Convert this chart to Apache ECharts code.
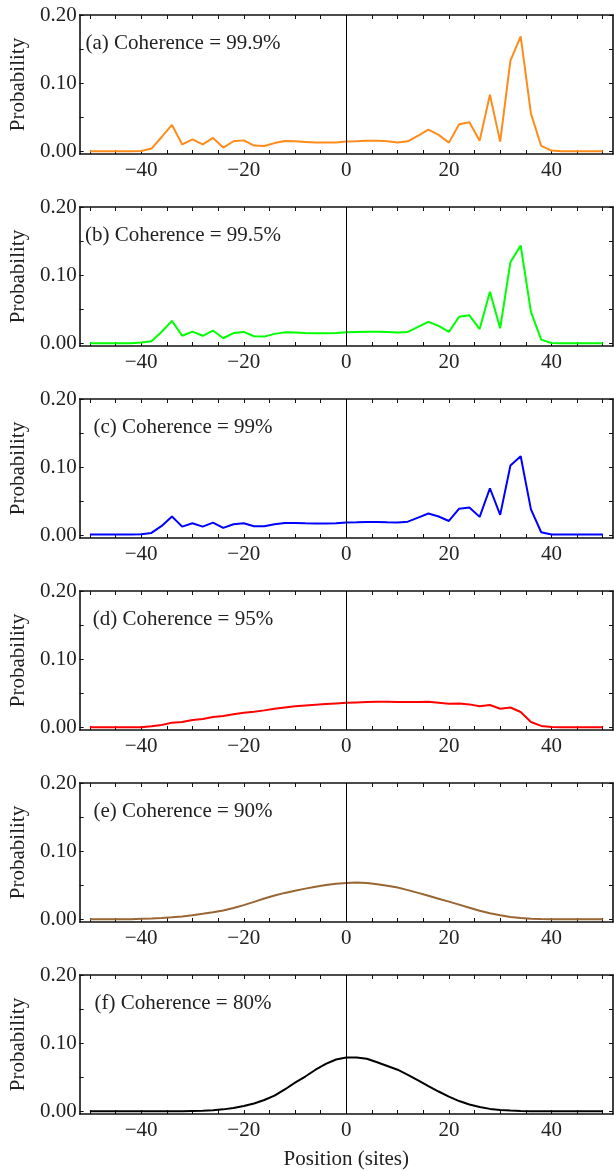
<!DOCTYPE html>
<html>
<head>
<meta charset="utf-8">
<script src="https://cdn.jsdelivr.net/npm/echarts@6/dist/echarts.min.js"></script>
<style>
html,body{margin:0;padding:0;background:#fff;}
#chart{width:614px;height:1171px;}
</style>
</head>
<body>
<div id="chart"></div>
<script>
// Positions (sites)
const positions = [-50,-48,-46,-44,-42,-40,-38,-36,-34,-32,-30,-28,-26,-24,-22,-20,-18,-16,-14,-12,-10,-8,-6,-4,-2,0,2,4,6,8,10,12,14,16,18,20,22,24,26,28,30,32,34,36,38,40,42,44,46,48,50];

// Probability per panel
const probA = [0,0,0,0,0,0.0005,0.004,0.021,0.0386,0.010,0.0176,0.010,0.0196,0.0054,0.0147,0.016,0.0083,0.0078,0.012,0.015,0.0147,0.0137,0.0127,0.0127,0.013,0.0142,0.0147,0.0156,0.0156,0.0147,0.013,0.0147,0.023,0.0318,0.024,0.0127,0.0396,0.0425,0.0156,0.083,0.0142,0.133,0.1687,0.0553,0.0078,0.001,0,0,0,0,0];
const probB = [0,0,0,0,0,0.001,0.003,0.017,0.0329,0.011,0.017,0.011,0.0187,0.0074,0.015,0.0167,0.0103,0.0098,0.0138,0.016,0.0157,0.015,0.0147,0.0147,0.015,0.016,0.0167,0.017,0.017,0.0167,0.0157,0.0167,0.024,0.0315,0.0256,0.0167,0.039,0.041,0.0209,0.0757,0.022,0.119,0.1435,0.0462,0.0054,0.0005,0,0,0,0,0];
const probC = [0.001,0.001,0.001,0.001,0.001,0.0015,0.0035,0.0137,0.0275,0.0127,0.0176,0.0127,0.0186,0.0108,0.0162,0.0176,0.0132,0.0132,0.0162,0.0181,0.0181,0.0176,0.0172,0.0172,0.0176,0.0186,0.019,0.0196,0.0196,0.019,0.0186,0.020,0.026,0.0319,0.0275,0.021,0.039,0.0407,0.027,0.069,0.030,0.1025,0.116,0.038,0.0044,0.001,0.001,0.001,0.001,0.001,0.001];
const probD = [0,0,0,0,0,0,0.0015,0.0034,0.0068,0.0078,0.0107,0.012,0.0151,0.0165,0.019,0.0214,0.0229,0.0248,0.0272,0.029,0.0307,0.032,0.033,0.034,0.035,0.036,0.0365,0.037,0.0375,0.0375,0.037,0.037,0.037,0.0375,0.036,0.0345,0.035,0.0336,0.031,0.0326,0.0272,0.029,0.0224,0.0078,0.002,0.0005,0,0,0,0,0];
const probE = [0,0,0,0,0,0.0008,0.0012,0.0018,0.0028,0.0042,0.0060,0.0080,0.0102,0.0128,0.0165,0.0208,0.0255,0.0305,0.0348,0.0387,0.0420,0.0450,0.0477,0.0503,0.0522,0.0533,0.0538,0.0533,0.0515,0.0493,0.0465,0.0428,0.0387,0.0345,0.0302,0.0259,0.0215,0.0170,0.0125,0.0088,0.0058,0.0035,0.0018,0.0008,0.0003,0,0,0,0,0,0];
const probF = [0,0,0,0,0,0,0,0,0,0,0.0004,0.0008,0.0015,0.0028,0.0048,0.0078,0.0115,0.0165,0.0230,0.0320,0.0420,0.0510,0.0610,0.0695,0.0760,0.0790,0.0790,0.0770,0.0720,0.0665,0.0610,0.0535,0.0455,0.0370,0.0290,0.0215,0.0150,0.0100,0.0062,0.0035,0.0020,0.0010,0.0005,0.0002,0,0,0,0,0,0,0];

const panelLabels = ['(a) Coherence = 99.9%','(b) Coherence = 99.5%','(c) Coherence = 99%','(d) Coherence = 95%','(e) Coherence = 90%','(f) Coherence = 80%'];
const seriesValues = [probA, probB, probC, probD, probE, probF];
const lineColors = ['#FF8C1A','#00FF00','#0000FF','#FF0000','#996633','#000000'];

// Tick labels
const xTickLabels = [-40,-20,0,20,40];
const xTickMarks = [-50,-45,-40,-35,-30,-25,-20,-15,-10,-5,0,5,10,15,20,25,30,35,40,45,50];
const yTickLabels = [0,0.1,0.2];
const yTickMarks = [0,0.05,0.1,0.15,0.2];

const FONT = 'Liberation Serif';
const TXT = '#222';
const FS = 21;
const gridLeft = 75, gridW = 538, gridH = 139, gridTop0 = 15, gridStep = 192;

const grids = [], xAxes = [], yAxes = [], series = [], graphics = [];
const fmtX = v => v < 0 ? '\u2212' + Math.abs(v) : String(v);

for (let i = 0; i < 6; i++) {
  const top = gridTop0 + i * gridStep;
  grids.push({left: gridLeft, top: top, width: gridW, height: gridH, containLabel: false, show: false});
  const axLine = {show: true, onZero: false, lineStyle: {color: '#111', width: 1.6}};
  const tick = {show: true, inside: true, length: 4, lineStyle: {color: '#111', width: 1}, customValues: xTickMarks};
  // bottom x
  xAxes.push({
    type: 'value', gridIndex: i, position: 'bottom', min: -52, max: 52,
    axisLine: axLine, axisTick: tick, splitLine: {show: false},
    axisLabel: {show: true, customValues: xTickLabels, formatter: fmtX, fontFamily: FONT, fontSize: FS, color: TXT, margin: 6},
    name: i === 5 ? 'Position (sites)' : '', nameLocation: 'middle', nameGap: 35,
    nameTextStyle: {fontFamily: FONT, fontSize: FS, color: TXT}
  });
  // top x
  xAxes.push({
    type: 'value', gridIndex: i, position: 'top', min: -52, max: 52,
    axisLine: axLine, axisTick: tick, splitLine: {show: false}, axisLabel: {show: false}
  });
  const ytick = {show: true, inside: true, length: 4, lineStyle: {color: '#111', width: 1}, customValues: yTickMarks};
  yAxes.push({
    type: 'value', gridIndex: i, position: 'left', min: -0.004, max: 0.2,
    axisLine: axLine, axisTick: ytick, splitLine: {show: false},
    axisLabel: {show: true, customValues: yTickLabels, formatter: v => v.toFixed(2), fontFamily: FONT, fontSize: FS, color: TXT, margin: 3},
    name: 'Probability', nameLocation: 'middle', nameGap: 47, nameRotate: 90,
    nameTextStyle: {fontFamily: FONT, fontSize: FS, color: TXT}
  });
  yAxes.push({
    type: 'value', gridIndex: i, position: 'right', min: -0.004, max: 0.2,
    axisLine: axLine, axisTick: ytick, splitLine: {show: false}, axisLabel: {show: false}
  });
  series.push({
    type: 'line', xAxisIndex: 2 * i, yAxisIndex: 2 * i,
    data: positions.map((p, k) => [p, seriesValues[i][k]]),
    showSymbol: false, symbol: 'none', smooth: false,
    lineStyle: {color: lineColors[i], width: 2},
    animation: false, z: 3,
    markLine: {
      silent: true, symbol: 'none', label: {show: false},
      lineStyle: {color: '#000', width: 1, type: 'solid'},
      data: [{xAxis: 0}], animation: false
    }
  });
  graphics.push({
    type: 'text', x: 183, y: top + 28, z: 10,
    style: {text: panelLabels[i], font: FS + 'px "' + FONT + '"', fill: TXT, textAlign: 'center', textVerticalAlign: 'middle'}
  });
}

const chart = echarts.init(document.getElementById('chart'), null, {renderer: 'canvas'});
chart.setOption({
  animation: false,
  backgroundColor: '#fff',
  grid: grids, xAxis: xAxes, yAxis: yAxes, series: series,
  graphic: graphics
});
</script>
</body>
</html>
